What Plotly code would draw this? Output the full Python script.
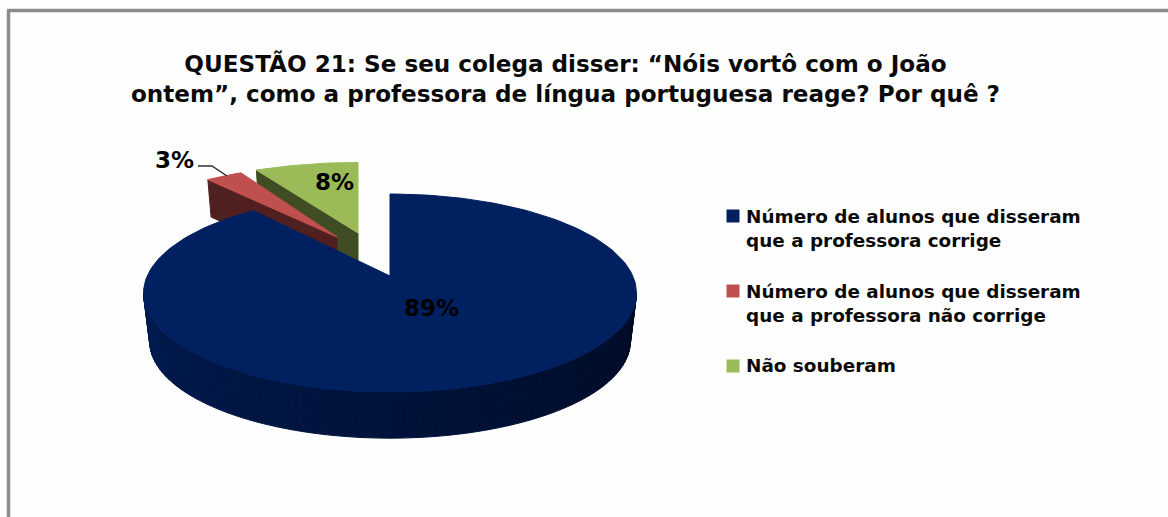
# 3D-look exploded pie, drawn on a pixel-sized cartesian plot since plotly has no 3D pie.
import numpy as np
import plotly.graph_objects as go

W = 1168
H = 517

# Data
labels = ["Número de alunos que disseram<br>que a professora corrige",
          "Número de alunos que disseram<br>que a professora não corrige",
          "Não souberam"]
values = [89, 3, 8]
percent_text = ["89%", "3%", "8%"]
title = "QUESTÃO 21: Se seu colega disser: “Nóis vortô com o João<br>ontem”, como a professora de língua portuguesa reage? Por quê ?"

# Colours
top_colors = ["#002060", "#C0504D", "#9BBB59"]
wall_colors = ["#001038", "#4F201F", "#404D24"]
frame_color = "#8C8C8C"
font_bold = "DejaVu Sans"

# Projection of the pie: perspective squash, so the far half looks smaller
RX = 242.8
RY = 96.1
PERSP = 0.172
BOTTOM_SCALE = 0.975

# Where each slice apex ended up after the explosion, with its own squash
apex = [(390, 276), (337, 237), (358, 233)]
scale_x = [1.0, 0.945, 1.0]
scale_y = [1.0, 0.877, 0.86]
depth = [49, 36, 36]


def project(theta, i, bottom=False):
	# theta is degrees clockwise from 12 o'clock
	t = np.radians(theta)
	w = 1 / (1 + PERSP * np.cos(t))
	k = BOTTOM_SCALE if bottom else 1.0
	x = apex[i][0] + RX * scale_x[i] * k * np.sin(t) * w
	y = apex[i][1] - RY * scale_y[i] * k * np.cos(t) * w
	if bottom:
		y = y + depth[i]
	return x, y


def poly(fig, xs, ys, color):
	fig.add_trace(go.Scatter(x=xs, y=ys, mode="lines", fill="toself", fillcolor=color,
	                         line=dict(color=color, width=1), hoverinfo="skip", showlegend=False))


def hex_mix(c0, c1, f):
	a = [int(c0[j:j + 2], 16) for j in (1, 3, 5)]
	b = [int(c1[j:j + 2], 16) for j in (1, 3, 5)]
	return "#" + "".join(f"{round(p + (q - p) * f):02x}" for p, q in zip(a, b))


# Slice angles from the values, starting at 12 o'clock
edges = np.concatenate([[0], np.cumsum(values)]) / sum(values) * 360
fig = go.Figure()


def draw_cut_slice(i):
	# the small slices show their left cut face, not the rim
	start, end = edges[i], edges[i + 1]
	x0, y0 = apex[i]
	xt, yt = project(start, i)
	xb, yb = project(start, i, bottom=True)
	poly(fig, [x0, xt, xb, x0, x0], [y0, yt, yb, y0 + depth[i], y0], wall_colors[i])
	arc = np.linspace(start, end, 30)
	ax, ay = project(arc, i)
	poly(fig, [x0, *ax, x0], [y0, *ay, y0], top_colors[i])


draw_cut_slice(2)
draw_cut_slice(1)

# Big slice: front rim in strips for the left to right shading
rim_left = 260.1
rim_right = 99.9
strips = np.linspace(rim_right, rim_left, 81)
for n in range(len(strips) - 1):
	f = n / (len(strips) - 2)
	arc = np.linspace(strips[n], strips[n + 1], 4)
	tx, ty = project(arc, 0)
	bx, by = project(arc, 0, bottom=True)
	poly(fig, [*tx, *bx[::-1], tx[0]], [*ty, *by[::-1], ty[0]], hex_mix("#000A24", "#001B50", f))

arc = np.linspace(edges[0], edges[1], 200)
ax, ay = project(arc, 0)
poly(fig, [apex[0][0], *ax, apex[0][0]], [apex[0][1], *ay, apex[0][1]], top_colors[0])

# Leader line for the 3%
fig.add_trace(go.Scatter(x=[198, 212, 227], y=[166, 166, 176], mode="lines",
                         line=dict(color="#303030", width=1.5), hoverinfo="skip", showlegend=False))

# Percent labels
label_pos = [(431, 308), (174, 160), (334, 182)]
for i in range(3):
	fig.add_annotation(text=f"<b>{percent_text[i]}</b>", x=label_pos[i][0], y=label_pos[i][1], showarrow=False,
	                   font=dict(family="DejaVu Sans", size=23, color="#000000"))

# Legend by hand, the real one can't do this spacing
legend_y = [216, 291, 366]
text_y = [228, 303, 365]
fig.add_trace(go.Scatter(x=[733, 733, 733], y=legend_y, mode="markers", hoverinfo="skip", showlegend=False,
                         marker=dict(symbol="square", size=13, color=top_colors, line=dict(width=0))))
for i in range(3):
	fig.add_annotation(text=f"<b>{labels[i]}</b>", x=744, y=text_y[i], xanchor="left", align="left", showarrow=False,
	                   font=dict(family=font_bold, size=18.4, color="#0A0A0A"))

# Title
fig.add_annotation(text=f"<b>{title}</b>", x=565, y=78, showarrow=False, align="center",
                   font=dict(family=font_bold, size=23.1, color="#0A0A0A"))

# Grey frame, cropped on the right and at the bottom
fig.add_shape(type="line", x0=8.5, y0=517, x1=8.5, y1=10.5, line=dict(color=frame_color, width=3.5))
fig.add_shape(type="line", x0=7, y0=10.5, x1=1168, y1=10.5, line=dict(color=frame_color, width=3.5))

fig.update_xaxes(range=[0, W], visible=False)
fig.update_yaxes(range=[H, 0], visible=False)
fig.update_layout(width=W, height=H, margin=dict(l=0, r=0, t=0, b=0), showlegend=False,
                  paper_bgcolor="#FEFEFE", plot_bgcolor="#FEFEFE")

# the page's default body margin would push everything 8px off
fig.write_html("out.html", config=dict(displayModeBar=False),
               post_script="document.body.style.margin = '0';")
